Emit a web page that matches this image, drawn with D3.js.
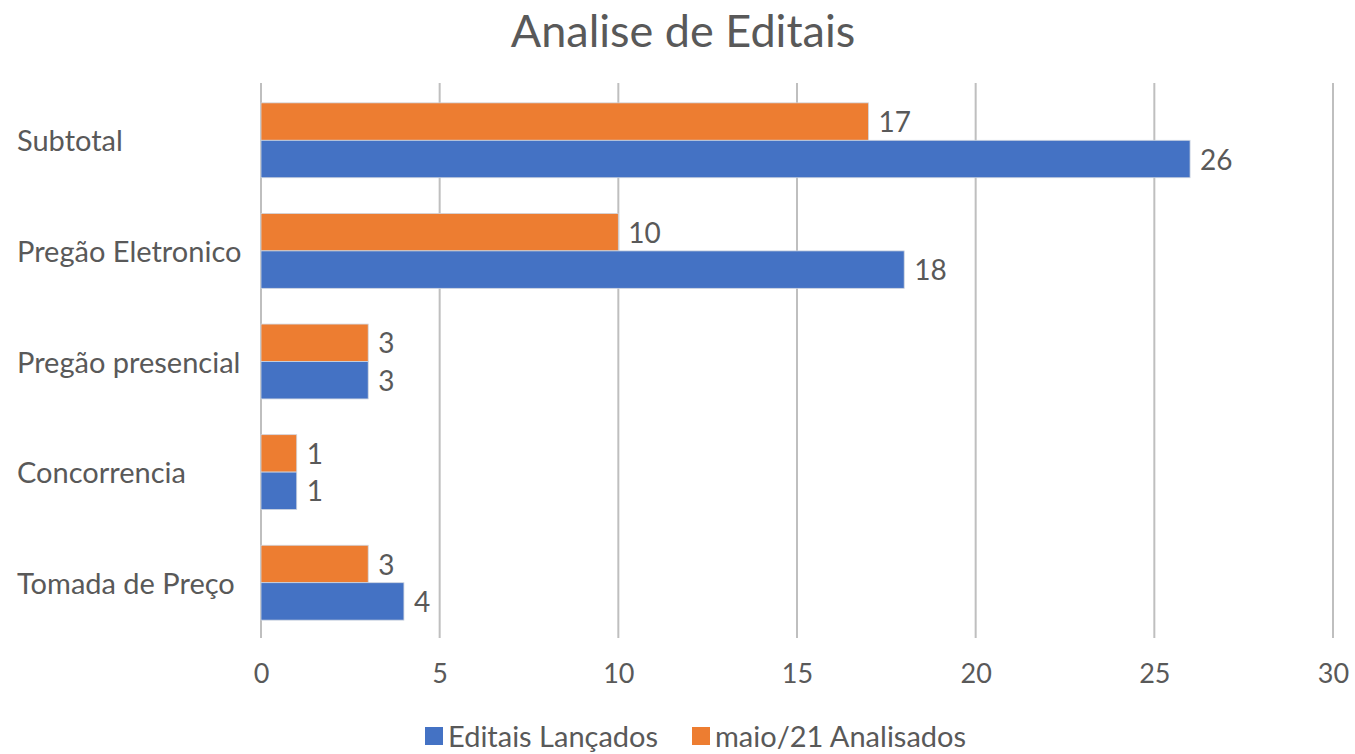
<!DOCTYPE html>
<html>
<head>
<meta charset="utf-8">
<script src="https://cdn.jsdelivr.net/npm/d3@7"></script>
<style>
  body { margin: 0; background: #fff; }
  text { font-family: Lato, "Open Sans", sans-serif; fill: #595959; }
</style>
</head>
<body>
<script>
// data
var categories = ["Subtotal", "Pregão Eletronico", "Pregão presencial", "Concorrencia", "Tomada de Preço"];
var analisados = [17, 10, 3, 1, 3];
var lancados = [26, 18, 3, 1, 4];
var seriesNames = ["maio/21 Analisados", "Editais Lançados"];
var ticks = [0, 5, 10, 15, 20, 25, 30];

var width = 1355, height = 754;
var plot = {left: 261, right: 1333, top: 85, bottom: 638};
var colors = {"Editais Lançados": "#4472C4", "maio/21 Analisados": "#ED7D31"};

var svg = d3.select("body").append("svg")
    .attr("width", width)
    .attr("height", height);

var x = d3.scaleLinear().domain([0, 30]).range([plot.left, plot.right]);

var y = d3.scaleBand()
    .domain(categories)
    .range([plot.top, plot.bottom])
    .paddingInner(0.323)
    .paddingOuter(0.1615);

var ySub = d3.scaleBand()
    .domain(seriesNames)
    .range([0, y.bandwidth()]);

//title
svg.append("text")
    .attr("x", 683)
    .attr("y", 47)
    .attr("text-anchor", "middle")
    .style("font-size", "45px")
    .text("Analise de Editais");

//gridlines
svg.append("g").selectAll("line")
    .data(ticks)
    .enter().append("line")
    .attr("x1", function(d) { return x(d); })
    .attr("x2", function(d) { return x(d); })
    .attr("y1", plot.top - 2)
    .attr("y2", plot.bottom)
    .attr("stroke", "#bfbfbf")
    .attr("stroke-width", 2);

//x axis tick labels
var xAxis = d3.axisBottom(x).tickValues(ticks).tickSize(0).tickPadding(0);
var gx = svg.append("g")
    .attr("transform", "translate(0," + (plot.bottom + 45) + ")")
    .call(xAxis);
gx.select(".domain").remove();
gx.selectAll("text")
    .attr("dy", 0)
    .style("font-size", "27px")
    .style("font-family", "Lato, 'Open Sans', sans-serif")
    .attr("fill", "#595959");

//category labels
var yAxis = d3.axisLeft(y).tickSize(0).tickPadding(0);
var gy = svg.append("g")
    .attr("transform", "translate(17,0)")
    .call(yAxis);
gy.select(".domain").remove();
gy.selectAll("text")
    .attr("text-anchor", "start")
    .attr("dy", "0.38em")
    .style("font-size", "29px")
    .style("font-family", "Lato, 'Open Sans', sans-serif")
    .attr("fill", "#595959");

//bars
var rows = categories.map(function(c, i) {
    return {cat: c, values: [
        {name: "maio/21 Analisados", value: analisados[i]},
        {name: "Editais Lançados", value: lancados[i]}
    ]};
});

var groups = svg.selectAll(".grp")
    .data(rows)
    .enter().append("g")
    .attr("class", "grp")
    .attr("transform", function(d) { return "translate(0," + y(d.cat) + ")"; });

groups.selectAll("rect")
    .data(function(d) { return d.values; })
    .enter().append("rect")
    .attr("x", x(0))
    .attr("y", function(d) { return ySub(d.name); })
    .attr("width", function(d) { return x(d.value) - x(0); })
    .attr("height", ySub.bandwidth())
    .attr("fill", function(d) { return colors[d.name]; })
    .attr("stroke", "#d0d6e0")
    .attr("stroke-width", 0.8);

groups.selectAll(".lbl")
    .data(function(d) { return d.values; })
    .enter().append("text")
    .attr("class", "lbl")
    .attr("x", function(d) { return x(d.value) + 10; })
    .attr("y", function(d) { return ySub(d.name) + ySub.bandwidth() / 2; })
    .attr("dy", "0.38em")
    .style("font-size", "28px")
    .text(function(d) { return d.value; });

//legend
var legendItems = [
    {name: "Editais Lançados", x: 425},
    {name: "maio/21 Analisados", x: 692}
];
var lg = svg.selectAll(".legend")
    .data(legendItems)
    .enter().append("g")
    .attr("class", "legend")
    .attr("transform", function(d) { return "translate(" + d.x + ",727)"; });
lg.append("rect")
    .attr("width", 18)
    .attr("height", 18)
    .attr("fill", function(d) { return colors[d.name]; });
lg.append("text")
    .attr("x", 23)
    .attr("y", 20)
    .style("font-size", "29px")
    .text(function(d) { return d.name; });
</script>
</body>
</html>
